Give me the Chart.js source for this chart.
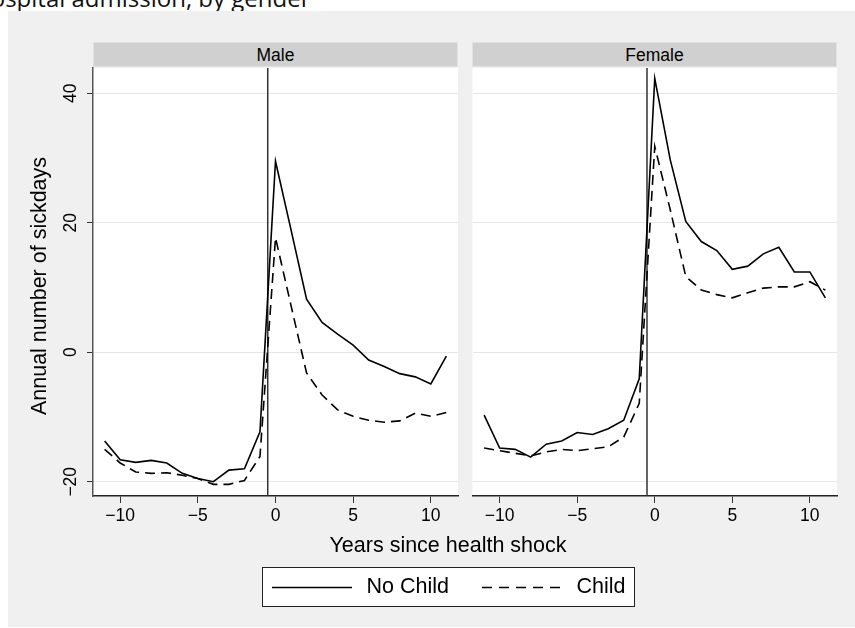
<!DOCTYPE html>
<html>
<head>
<meta charset="utf-8">
<script src="https://cdn.jsdelivr.net/npm/chart.js@4.4.1/dist/chart.umd.min.js"></script>
<style>
  html, body { margin: 0; padding: 0; }
  body { width: 855px; height: 628px; overflow: hidden; position: relative; background: #fff;
         font-family: "Liberation Sans", Arial, sans-serif; color: #000; }
  #caption { position: absolute; left: -24px; top: -14.5px; font-family: "Open Sans", sans-serif;
             font-size: 24px; line-height: 24px; white-space: nowrap; color: #111; }
  #region { position: absolute; left: 8px; top: 11px; width: 847px; height: 616px; background: #f0f0f0; }
  .strip { position: absolute; top: 42px; height: 25px; line-height: 25px; background: #d0d0d0;
           box-sizing: border-box; border: 1px solid #dde4e8; text-align: center; font-size: 17.5px; }
  .panel { position: absolute; top: 60px; }
  #xtitle { position: absolute; left: 248px; width: 400px; top: 535px; text-align: center;
            font-size: 21.5px; line-height: 21.5px; white-space: nowrap; }
  #legend { position: absolute; left: 262px; top: 567px; width: 373px; height: 40px; box-sizing: border-box;
            border: 1px solid #222; background: #fff; }
  .ltext { position: absolute; top: 575.5px; font-size: 21.5px; line-height: 21.5px; white-space: nowrap; }
</style>
</head>
<body>
<div id="caption">hospital admission, by gender</div>
<div id="region"></div>
<div class="strip" style="left:93px;width:365px;">Male</div>
<div class="strip" style="left:472px;width:365px;">Female</div>
<div class="panel" style="left:0px;"><canvas id="maleChart" width="460" height="480"></canvas></div>
<div class="panel" style="left:465px;"><canvas id="femaleChart" width="375" height="480"></canvas></div>
<div id="xtitle">Years since health shock</div>
<div id="legend">
  <svg width="373" height="40" style="position:absolute;left:-1px;top:-1px;">
    <line x1="10" y1="20.5" x2="90" y2="20.5" stroke="#000" stroke-width="1.6"/>
    <line x1="220" y1="20.5" x2="300" y2="20.5" stroke="#000" stroke-width="1.6" stroke-dasharray="10,7"/>
  </svg>
</div>
<span class="ltext" style="left:366.5px;">No Child</span>
<span class="ltext" style="left:576.5px;">Child</span>

<script>
// years relative to the health shock
const years = [-11, -10, -9, -8, -7, -6, -5, -4, -3, -2, -1, 0, 1, 2, 3, 4, 5, 6, 7, 8, 9, 10, 11];

// annual number of sickdays
const maleNoChild = [-13.7, -16.6, -17.0, -16.7, -17.1, -18.7, -19.5, -20.0, -18.2, -18.0, -12.3,
                     29.5, 18.9, 8.2, 4.6, 2.8, 1.1, -1.2, -2.2, -3.3, -3.8, -4.9, -0.6];
const maleChild = [-15.0, -17.1, -18.5, -18.7, -18.6, -19.0, -19.5, -20.4, -20.4, -19.8, -16.1,
                   17.7, 7.2, -3.2, -6.6, -8.9, -9.9, -10.5, -10.8, -10.6, -9.4, -9.9, -9.3];
const femaleNoChild = [-9.7, -14.8, -15.0, -16.2, -14.2, -13.7, -12.4, -12.7, -11.8, -10.5, -4.1,
                       42.3, 29.7, 20.2, 17.1, 15.7, 12.8, 13.3, 15.2, 16.2, 12.4, 12.4, 8.4];
const femaleChild = [-14.8, -15.2, -15.6, -16.0, -15.4, -15.0, -15.2, -14.9, -14.6, -13.1, -7.9,
                     31.8, 22.0, 11.7, 9.6, 8.9, 8.4, 9.2, 9.9, 10.1, 10.1, 10.9, 9.6];

const xTicks = [-10, -5, 0, 5, 10];
const yTicks = [-20, 0, 20, 40];
const shockYear = -0.5;

const FONT = '"Liberation Sans", Arial, sans-serif';

function fmt(v) {
    return v < 0 ? '\u2212' + Math.abs(v) : String(v);
}

// white plot region
const plotBackground = {
    id: 'plotBackground',
    beforeDraw(chart) {
        const { ctx, chartArea: a } = chart;
        ctx.save();
        ctx.fillStyle = '#fff';
        ctx.fillRect(a.left, a.top, a.right - a.left, a.bottom - a.top);
        ctx.restore();
    }
};

// vertical reference line at the shock
const shockLine = {
    id: 'shockLine',
    beforeDatasetsDraw(chart) {
        const { ctx, chartArea: a, scales } = chart;
        const x = scales.x.getPixelForValue(shockYear);
        ctx.save();
        ctx.strokeStyle = '#333';
        ctx.lineWidth = 1.5;
        ctx.beginPath();
        ctx.moveTo(x, a.top);
        ctx.lineTo(x, a.bottom);
        ctx.stroke();
        ctx.restore();
    }
};

// rotated y tick labels and y title (left panel only)
const yLabels = {
    id: 'yLabels',
    afterDraw(chart) {
        const { ctx, chartArea: a, scales } = chart;
        ctx.save();
        ctx.fillStyle = '#000';
        ctx.textAlign = 'center';
        ctx.textBaseline = 'alphabetic';
        ctx.font = '17.5px ' + FONT;
        yTicks.forEach(v => {
            ctx.save();
            ctx.translate(76, scales.y.getPixelForValue(v));
            ctx.rotate(-Math.PI / 2);
            ctx.fillText(fmt(v), 0, 0);
            ctx.restore();
        });
        ctx.font = '21.5px ' + FONT;
        ctx.translate(45.5, (a.top + a.bottom) / 2 + 4);
        ctx.rotate(-Math.PI / 2);
        ctx.fillText('Annual number of sickdays', 0, 0);
        ctx.restore();
    }
};

function series(label, values, dash) {
    return {
        label: label,
        data: years.map((x, i) => ({ x: x, y: values[i] })),
        borderColor: '#000',
        borderWidth: 1.6,
        borderDash: dash,
        pointRadius: 0,
        tension: 0,
        fill: false
    };
}

function makePanel(id, noChild, child, isLeft) {
    return new Chart(document.getElementById(id), {
        type: 'line',
        data: {
            datasets: [
                series('No Child', noChild, []),
                series('Child', child, [10, 6])
            ]
        },
        options: {
            responsive: false,
            animation: false,
            events: [],
            layout: { padding: { top: 8, right: isLeft ? 2 : 3, bottom: 0, left: 0 } },
            plugins: { legend: { display: false }, tooltip: { enabled: false } },
            scales: {
                x: {
                    type: 'linear',
                    min: -11.75,
                    max: 11.75,
                    afterBuildTicks: s => { s.ticks = xTicks.map(v => ({ value: v })); },
                    afterFit: s => { s.height = 44; },
                    grid: { display: true, drawOnChartArea: false, drawTicks: true, tickLength: 7,
                            tickColor: '#333', tickWidth: 1 },
                    border: { display: true, color: '#222', width: 1.5 },
                    ticks: { color: '#000', font: { family: FONT, size: 17.5 }, padding: 3,
                             maxRotation: 0, autoSkip: false, callback: v => fmt(v) }
                },
                y: {
                    type: 'linear',
                    min: -22.2,
                    max: 43.9,
                    afterBuildTicks: s => { s.ticks = yTicks.map(v => ({ value: v })); },
                    afterFit: s => { s.width = isLeft ? 93 : 7.5; },
                    grid: { color: '#e6e6e6', lineWidth: 1, drawTicks: isLeft, tickLength: 6,
                            tickColor: '#333', tickWidth: 1 },
                    border: { display: isLeft, color: '#555', width: 1.5 },
                    ticks: { display: false }
                }
            }
        },
        plugins: isLeft ? [plotBackground, shockLine, yLabels] : [plotBackground, shockLine]
    });
}

makePanel('maleChart', maleNoChild, maleChild, true);
makePanel('femaleChart', femaleNoChild, femaleChild, false);
</script>
</body>
</html>
